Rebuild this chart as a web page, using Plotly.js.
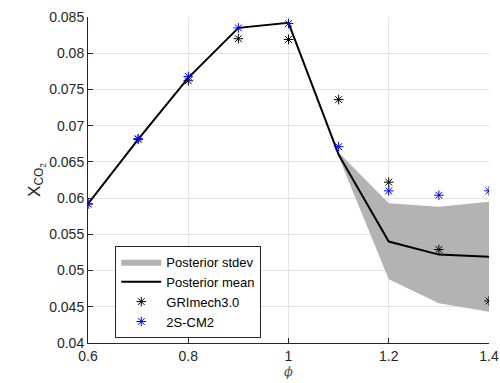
<!DOCTYPE html>
<html>
<head>
<meta charset="utf-8">
<script src="https://cdn.plot.ly/plotly-3.0.1.min.js"></script>
<style>
  html, body { margin: 0; padding: 0; background: #fff; }
  #chart { width: 500px; height: 383px; }
</style>
</head>
<body>
<div id="chart"></div>
<script>
// Equivalence ratio
const phi = [0.6, 0.7, 0.8, 0.9, 1.0, 1.1, 1.2, 1.3, 1.4];

// Posterior mean and the ±1 stdev envelope
const postMean  = [0.0592, 0.0681, 0.0766, 0.0835, 0.0842, 0.0660, 0.0540, 0.0522, 0.0519];
const bandUpper = [0.0592, 0.0681, 0.0766, 0.0835, 0.0842, 0.0663, 0.0593, 0.0588, 0.0595];
const bandLower = [0.0592, 0.0681, 0.0766, 0.0835, 0.0842, 0.0657, 0.0488, 0.0455, 0.0443];

// Reference mechanisms
const griMech = [0.0592, 0.0681, 0.0762, 0.0820, 0.0819, 0.0736, 0.0622, 0.0529, 0.0458];
const cm2     = [0.0592, 0.0682, 0.0768, 0.0835, 0.0841, 0.0671, 0.0610, 0.0604, 0.0610];

const xTicks = [0.6, 0.8, 1.0, 1.2, 1.4];
const xTickText = ['0.6', '0.8', '1', '1.2', '1.4'];
const yTicks = [0.04, 0.045, 0.05, 0.055, 0.06, 0.065, 0.07, 0.075, 0.08, 0.085];
const yTickText = ['0.04', '0.045', '0.05', '0.055', '0.06', '0.065', '0.07', '0.075', '0.08', '0.085'];

const axisColor = '#262626';
const font = 'Liberation Sans, Arial, Helvetica, sans-serif';

// closed polygon for the envelope: upper edge forward, lower edge back
const bandX = phi.concat(phi.slice().reverse());
const bandY = bandUpper.concat(bandLower.slice().reverse());

const traces = [
  {
    x: bandX, y: bandY, type: 'scatter', mode: 'lines',
    fill: 'toself', fillcolor: '#b3b3b3',
    line: { width: 0, color: '#b3b3b3' },
    name: 'Posterior stdev', hoverinfo: 'skip'
  },
  {
    x: phi, y: postMean, type: 'scatter', mode: 'lines',
    line: { color: '#000000', width: 2 },
    name: 'Posterior mean'
  },
  {
    x: phi, y: griMech, type: 'scatter', mode: 'markers',
    marker: { symbol: 'asterisk-open', size: 8, color: '#000000', line: { color: '#000000', width: 1 } },
    name: 'GRImech3.0'
  },
  {
    x: phi, y: cm2, type: 'scatter', mode: 'markers',
    marker: { symbol: 'asterisk-open', size: 8, color: '#0000ff', line: { color: '#0000ff', width: 1 } },
    name: '2S-CM2'
  }
];

const layout = {
  width: 500, height: 383,
  margin: { l: 88, r: 11, t: 17, b: 40 },
  paper_bgcolor: '#ffffff', plot_bgcolor: '#ffffff',
  font: { family: font, size: 14, color: axisColor },
  showlegend: true,
  legend: {
    x: 0.068, y: 0.298, xanchor: 'left', yanchor: 'top',
    bgcolor: '#ffffff', bordercolor: axisColor, borderwidth: 1,
    font: { family: font, size: 13, color: '#000000' },
    tracegroupgap: 0, itemwidth: 40
  },
  xaxis: {
    range: [0.6, 1.4], tickvals: xTicks, ticktext: xTickText,
    showgrid: true, gridcolor: '#e3e3e3', gridwidth: 1,
    zeroline: false, showline: true, linecolor: axisColor, linewidth: 1,
    ticks: 'inside', ticklen: 5, tickcolor: axisColor,
    tickfont: { family: font, size: 14, color: axisColor },
    title: { text: '<i>ϕ</i>', font: { family: 'DejaVu Serif, serif', size: 13, color: '#555555' }, standoff: 2 }
  },
  yaxis: {
    range: [0.04, 0.085], tickvals: yTicks, ticktext: yTickText,
    showgrid: true, gridcolor: '#e3e3e3', gridwidth: 1,
    zeroline: false, showline: true, linecolor: axisColor, linewidth: 1,
    ticks: 'inside', ticklen: 5, tickcolor: axisColor,
    tickfont: { family: font, size: 14, color: axisColor },
    title: { text: 'X<sub>CO<sub>2</sub></sub>', font: { family: font, size: 17, color: axisColor }, standoff: 4 }
  }
};

Plotly.newPlot('chart', traces, layout, { displayModeBar: false, staticPlot: true });
</script>
</body>
</html>
